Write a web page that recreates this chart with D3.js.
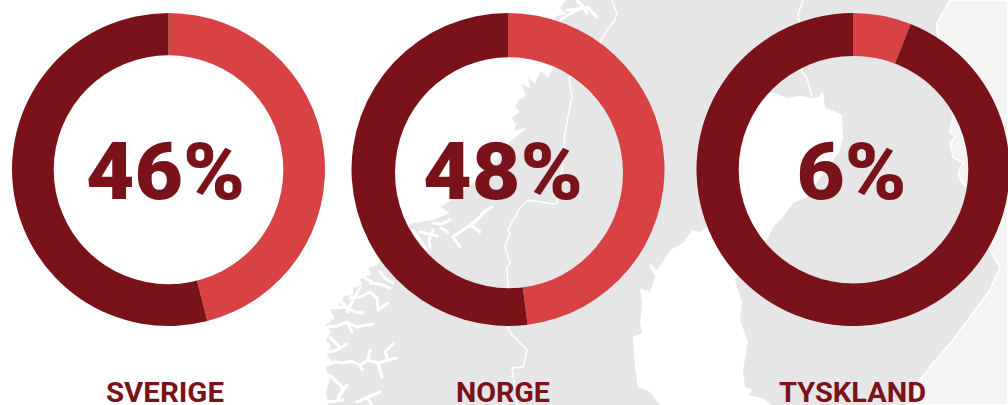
<!DOCTYPE html>
<html><head><meta charset="utf-8">
<script src="https://cdnjs.cloudflare.com/ajax/libs/d3/7.8.5/d3.min.js"></script>
<style>html,body{margin:0;padding:0;background:#fff;overflow:hidden}svg{display:block}</style>
</head><body><svg id="c" width="1008" height="405"></svg>
<script>
// data
const countries = ["SVERIGE","NORGE","TYSKLAND"];
const shares = [46,48,6];
const valueLabels = ["46%","48%","6%"];

// layout of the three rings
const ringCenters = {SVERIGE:168.5,NORGE:508,TYSKLAND:853};
const holes = {SVERIGE:{dx:0,dy:0.3,rx:114.8,ry:114.5},NORGE:{dx:1,dy:3.2,rx:114,ry:115.5},TYSKLAND:{dx:0.5,dy:0.2,rx:114.8,ry:113.8}};
const labelX = {SVERIGE:165,NORGE:503,TYSKLAND:852.5};
const labelW = {SVERIGE:118,NORGE:94,TYSKLAND:147};
const valueX = {SVERIGE:165.5,NORGE:503,TYSKLAND:851.5};
const valueW = {SVERIGE:159,NORGE:160,TYSKLAND:110};
const ringCy = 169.5, outerR = 156.5;
const dark = "#7a1319", light = "#d84245";

// decorative background map outlines
const landOutline = [[566,0],[560,8],[566,14],[556,16],[550,30],[557,65],[551,72],[548,78],[541,71],[537,78],[535,84],[528,78],[530,88],[521,84],[526,96],[519,100],[515,107],[520,112],[512,118],[516,124],[514,131],[528,127],[518,135],[510,142],[505,150],[497,160],[487,172],[472,184],[460,193],[452,200],[440,207],[450,213],[433,220],[413,223],[395,240],[377,265],[368,268],[372,274],[360,279],[362,285],[353,288],[353,295],[344,296],[340,304],[330,310],[335,318],[325,325],[331,332],[326,340],[331,346],[327,355],[332,362],[325,366],[330,378],[326,392],[328,405],[1008,405],[1008,0]];
const lakeUpper = [[765,92],[775,93],[787,98],[800,96],[813,98],[819,97],[823,91],[825,107],[842,115],[843,137],[840,150],[830,165],[815,185],[807,197],[793,203],[783,217],[773,227],[768,238],[760,245],[745,265],[735,280],[742,303],[740,320],[748,342],[743,370],[745,387],[753,390],[748,395],[762,398],[772,405],[660,405],[650,392],[638,387],[635,367],[633,337],[642,333],[640,323],[642,303],[640,288],[650,292],[655,277],[648,262],[657,270],[662,263],[670,250],[683,243],[692,230],[700,232],[707,227],[716,180],[735,130]];
const farRight = [[950,0],[937,23],[937,32],[953,117],[950,133],[955,137],[950,143],[953,157],[963,163],[958,173],[962,183],[967,187],[988,247],[1000,267],[990,290],[970,317],[953,340],[933,363],[920,380],[913,392],[907,405],[1008,405],[1008,0]];
const borders = [
 [[612,0],[617,13],[615,20],[607,30],[600,42],[569,78],[572,97],[568,117],[565,133],[562,170],[557,203],[553,204],[528,200],[520,208],[508,230],[510,233],[505,247],[510,263],[507,267],[508,287],[508,328],[512,335],[527,350],[523,367],[512,368],[517,405]],
 [[803,0],[798,15],[799,20],[802,72],[807,78],[812,97]]
];
const fjords = [
 [[567,10],[578,9],[587,7],[592,12],[597,17]],[[577,0],[583,7],[587,13]],[[560,20],[570,14],[580,8]],
 [[492,207],[484,212],[477,220],[466,228],[453,237],[460,247]],[[433,223],[442,224],[450,220]],[[430,247],[429,240],[433,230]],[[413,230],[420,240],[427,250]],[[470,225],[475,228],[480,232]],[[441,228],[448,232]],[[420,232],[437,236]],
 [[380,272],[386,279],[393,283]],[[370,283],[380,284],[390,288]],[[362,276],[372,282]],
 [[350,298],[360,297],[370,292],[377,298],[378,310],[388,303]],[[360,288],[354,298],[347,312]],[[330,308],[345,307],[355,312],[363,313]],[[340,300],[350,310]],
 [[327,327],[337,326],[347,322],[357,327],[366,325],[373,324]],[[347,322],[352,332]],
 [[327,365],[335,362],[343,363],[351,361],[360,365],[368,360],[370,350]],[[368,360],[378,363],[388,360],[385,352],[393,344]],[[378,363],[382,377]],[[388,360],[396,358]],[[360,365],[362,370]],
 [[328,352],[337,350],[347,344]],[[330,337],[340,348]],
 [[330,375],[336,381],[343,388],[338,398],[347,385]],[[357,402],[368,397],[380,392]],[[367,398],[372,405]],[[327,402],[343,400]]
];

const svg = d3.select("#c");
const line = d3.line();
const closed = d3.line().curve(d3.curveLinearClosed);

svg.append("path").attr("d",closed(landOutline)).attr("fill","#e6e6e6");
svg.append("path").attr("d",closed(farRight)).attr("fill","#f4f4f3").attr("stroke","#fff").attr("stroke-width",1.5);
svg.append("path").attr("d",closed(lakeUpper)).attr("fill","#fff");
svg.append("g").selectAll("path").data(borders).join("path").attr("d",line)
  .attr("fill","none").attr("stroke","#fff").attr("stroke-width",1.4);
svg.append("g").selectAll("path").data(fjords).join("path").attr("d",line)
  .attr("fill","none").attr("stroke","#fff").attr("stroke-width",3).attr("stroke-linejoin","round").attr("stroke-linecap","round");

const pie = d3.pie().sort(null).value(d=>d);
const arc = d3.arc().innerRadius(0).outerRadius(outerR);
const defs = svg.append("defs");

countries.forEach((name,i)=>{
  const cx = ringCenters[name], h = holes[name];
  const m = defs.append("mask").attr("id","hole"+i).attr("maskUnits","userSpaceOnUse")
    .attr("x",0).attr("y",0).attr("width",1008).attr("height",405);
  m.append("rect").attr("width",1008).attr("height",405).attr("fill","#fff");
  m.append("ellipse").attr("cx",cx+h.dx).attr("cy",ringCy+h.dy).attr("rx",h.rx).attr("ry",h.ry).attr("fill","#000");

  const g = svg.append("g").attr("mask",`url(#hole${i})`)
    .append("g").attr("transform",`translate(${cx},${ringCy})`);
  g.selectAll("path").data(pie([shares[i],100-shares[i]])).join("path")
    .attr("d",arc).attr("fill",(d,j)=>j===0?light:dark);

  svg.append("text").attr("x",valueX[name]).attr("y",199).attr("text-anchor","middle")
    .attr("font-family","Roboto").attr("font-weight",900).attr("font-size",80)
    .attr("textLength",valueW[name]).attr("lengthAdjust","spacingAndGlyphs")
    .attr("fill",dark).text(valueLabels[i]);
  svg.append("text").attr("x",labelX[name]).attr("y",401.5).attr("text-anchor","middle")
    .attr("font-family","Roboto").attr("font-weight",700).attr("font-size",28.5)
    .attr("textLength",labelW[name]).attr("lengthAdjust","spacingAndGlyphs")
    .attr("fill",dark).text(name);
});
</script></body></html>
